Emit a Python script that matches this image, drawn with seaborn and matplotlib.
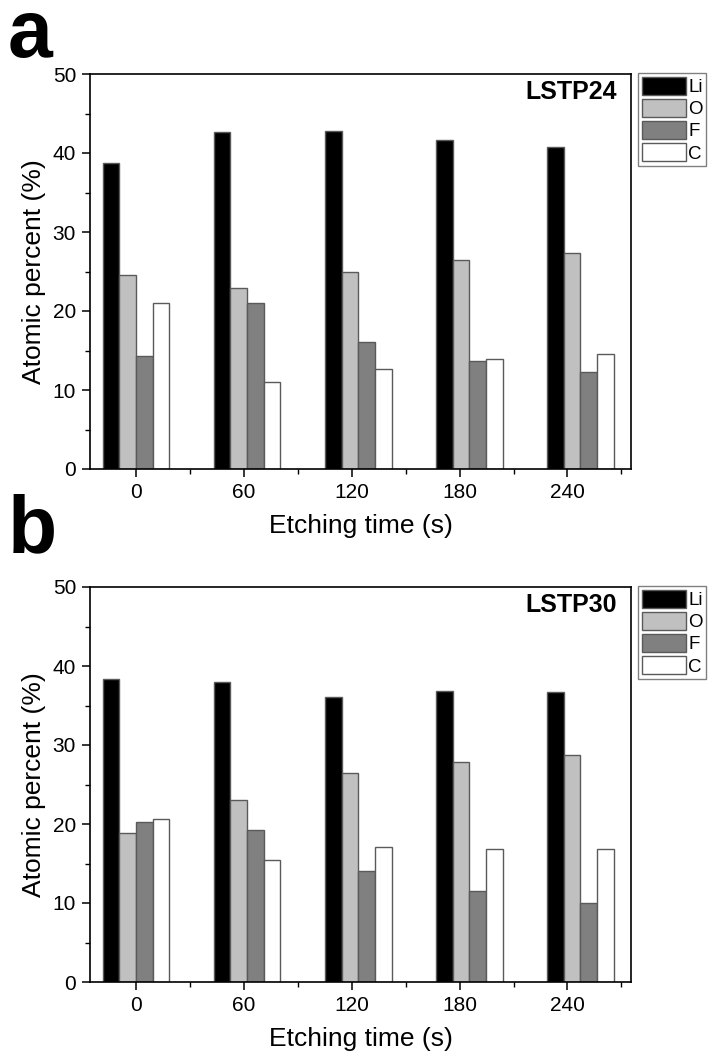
import numpy as np
import pandas as pd
import matplotlib
matplotlib.use("Agg")
import matplotlib.pyplot as plt
import seaborn as sns

# ---- data ----
times = [0, 60, 120, 180, 240]
elements = ["Li", "O", "F", "C"]
lstp24_li = [38.7, 42.6, 42.8, 41.6, 40.8]
lstp24_o = [24.6, 22.9, 25.0, 26.4, 27.4]
lstp24_f = [14.3, 21.0, 16.1, 13.7, 12.3]
lstp24_c = [21.0, 11.0, 12.7, 13.9, 14.5]
lstp30_li = [38.4, 38.0, 36.1, 36.8, 36.7]
lstp30_o = [18.9, 23.0, 26.5, 27.9, 28.7]
lstp30_f = [20.2, 19.3, 14.1, 11.5, 10.0]
lstp30_c = [20.6, 15.4, 17.1, 16.8, 16.8]
yticks = [0, 10, 20, 30, 40, 50]
panel_labels = ["a", "b"]
sample_names = ["LSTP24", "LSTP30"]
colors = {"Li": "#000000", "O": "#c0c0c0", "F": "#808080", "C": "#ffffff"}


def make_df(li, o, f, c):
    rows = []
    for el, vals in zip(elements, [li, o, f, c]):
        for t, v in zip(times, vals):
            rows.append({"time": t, "element": el, "pct": v})
    return pd.DataFrame(rows)


datasets = [make_df(lstp24_li, lstp24_o, lstp24_f, lstp24_c),
            make_df(lstp30_li, lstp30_o, lstp30_f, lstp30_c)]

sns.set_style("ticks")
plt.rcParams["font.family"] = ["Liberation Sans", "DejaVu Sans"]
plt.rcParams["text.color"] = "black"
plt.rcParams["axes.labelcolor"] = "black"
plt.rcParams["xtick.color"] = "black"
plt.rcParams["ytick.color"] = "black"

W, H = 712, 1057
fig = plt.figure(figsize=(W / 100, H / 100), dpi=100)

ax_left = 90 / W
ax_w = (631 - 90) / W
ax_h = 395 / H
tops = [74, 587]
# in the original figure the tick marks are spaced slightly tighter than the bar groups
tick_ratio = 107.75 / 111.0

for i, (df, name, plab, top) in enumerate(zip(datasets, sample_names, panel_labels, tops)):
    bottom = 1 - (top + 395) / H
    ax = fig.add_axes([ax_left, bottom, ax_w, ax_h])
    sns.barplot(data=df, x="time", y="pct", hue="element", hue_order=elements,
                palette=colors, width=0.6, errorbar=None,
                edgecolor="#5a5a5a", linewidth=1.0, saturation=1, ax=ax)
    ax.set_xlim(-0.4144, 4.4550)
    ax.set_ylim(0, 50)
    n = len(times)
    ax.set_xticks(np.arange(n) * tick_ratio)
    ax.set_xticklabels([str(t) for t in times])
    ax.set_xticks((np.arange(n) + 0.5) * tick_ratio, minor=True)
    ax.set_yticks(yticks)
    ax.set_yticks([5, 15, 25, 35, 45], minor=True)
    ax.tick_params(axis="both", which="major", direction="out", length=6, width=1.1,
                   labelsize=15, pad=4, color="black", labelcolor="black")
    ax.tick_params(axis="both", which="minor", direction="out", length=3.5, width=1.0,
                   color="black")
    ax.tick_params(top=False, right=False, which="both")
    for sp in ax.spines.values():
        sp.set_visible(True)
        sp.set_linewidth(1.2)
        sp.set_color("black")
    ax.set_xlabel("Etching time (s)", fontsize=19, color="black")
    ax.set_ylabel("Atomic percent (%)", fontsize=19, color="black")
    ax.xaxis.set_label_coords(0.5, -0.115)
    ax.yaxis.set_label_coords(-0.082, 0.5)
    ax.text(0.974, 0.954, name, transform=ax.transAxes, ha="right", va="center",
            fontsize=18, fontweight="bold", color="black")
    sns.move_legend(ax, "upper left", bbox_to_anchor=(1.013, 1.003), title=None,
                    frameon=True, fancybox=False, framealpha=1, fontsize=13.5,
                    handlelength=2.35, handleheight=1.1, labelspacing=0.15,
                    handletextpad=0.12, borderpad=0.2, borderaxespad=0)
    leg = ax.get_legend()
    leg.get_frame().set_edgecolor("#808080")
    leg.get_frame().set_linewidth(1.0)
    for h in leg.legend_handles:
        h.set_edgecolor("#5a5a5a")
    for t in leg.get_texts():
        t.set_color("black")
    fig.text(0.011, 1 - (57 if i == 0 else 552) / H, plab, fontsize=58,
             fontweight="bold", va="baseline", ha="left", color="black")

fig.savefig("out.png", dpi=100)
